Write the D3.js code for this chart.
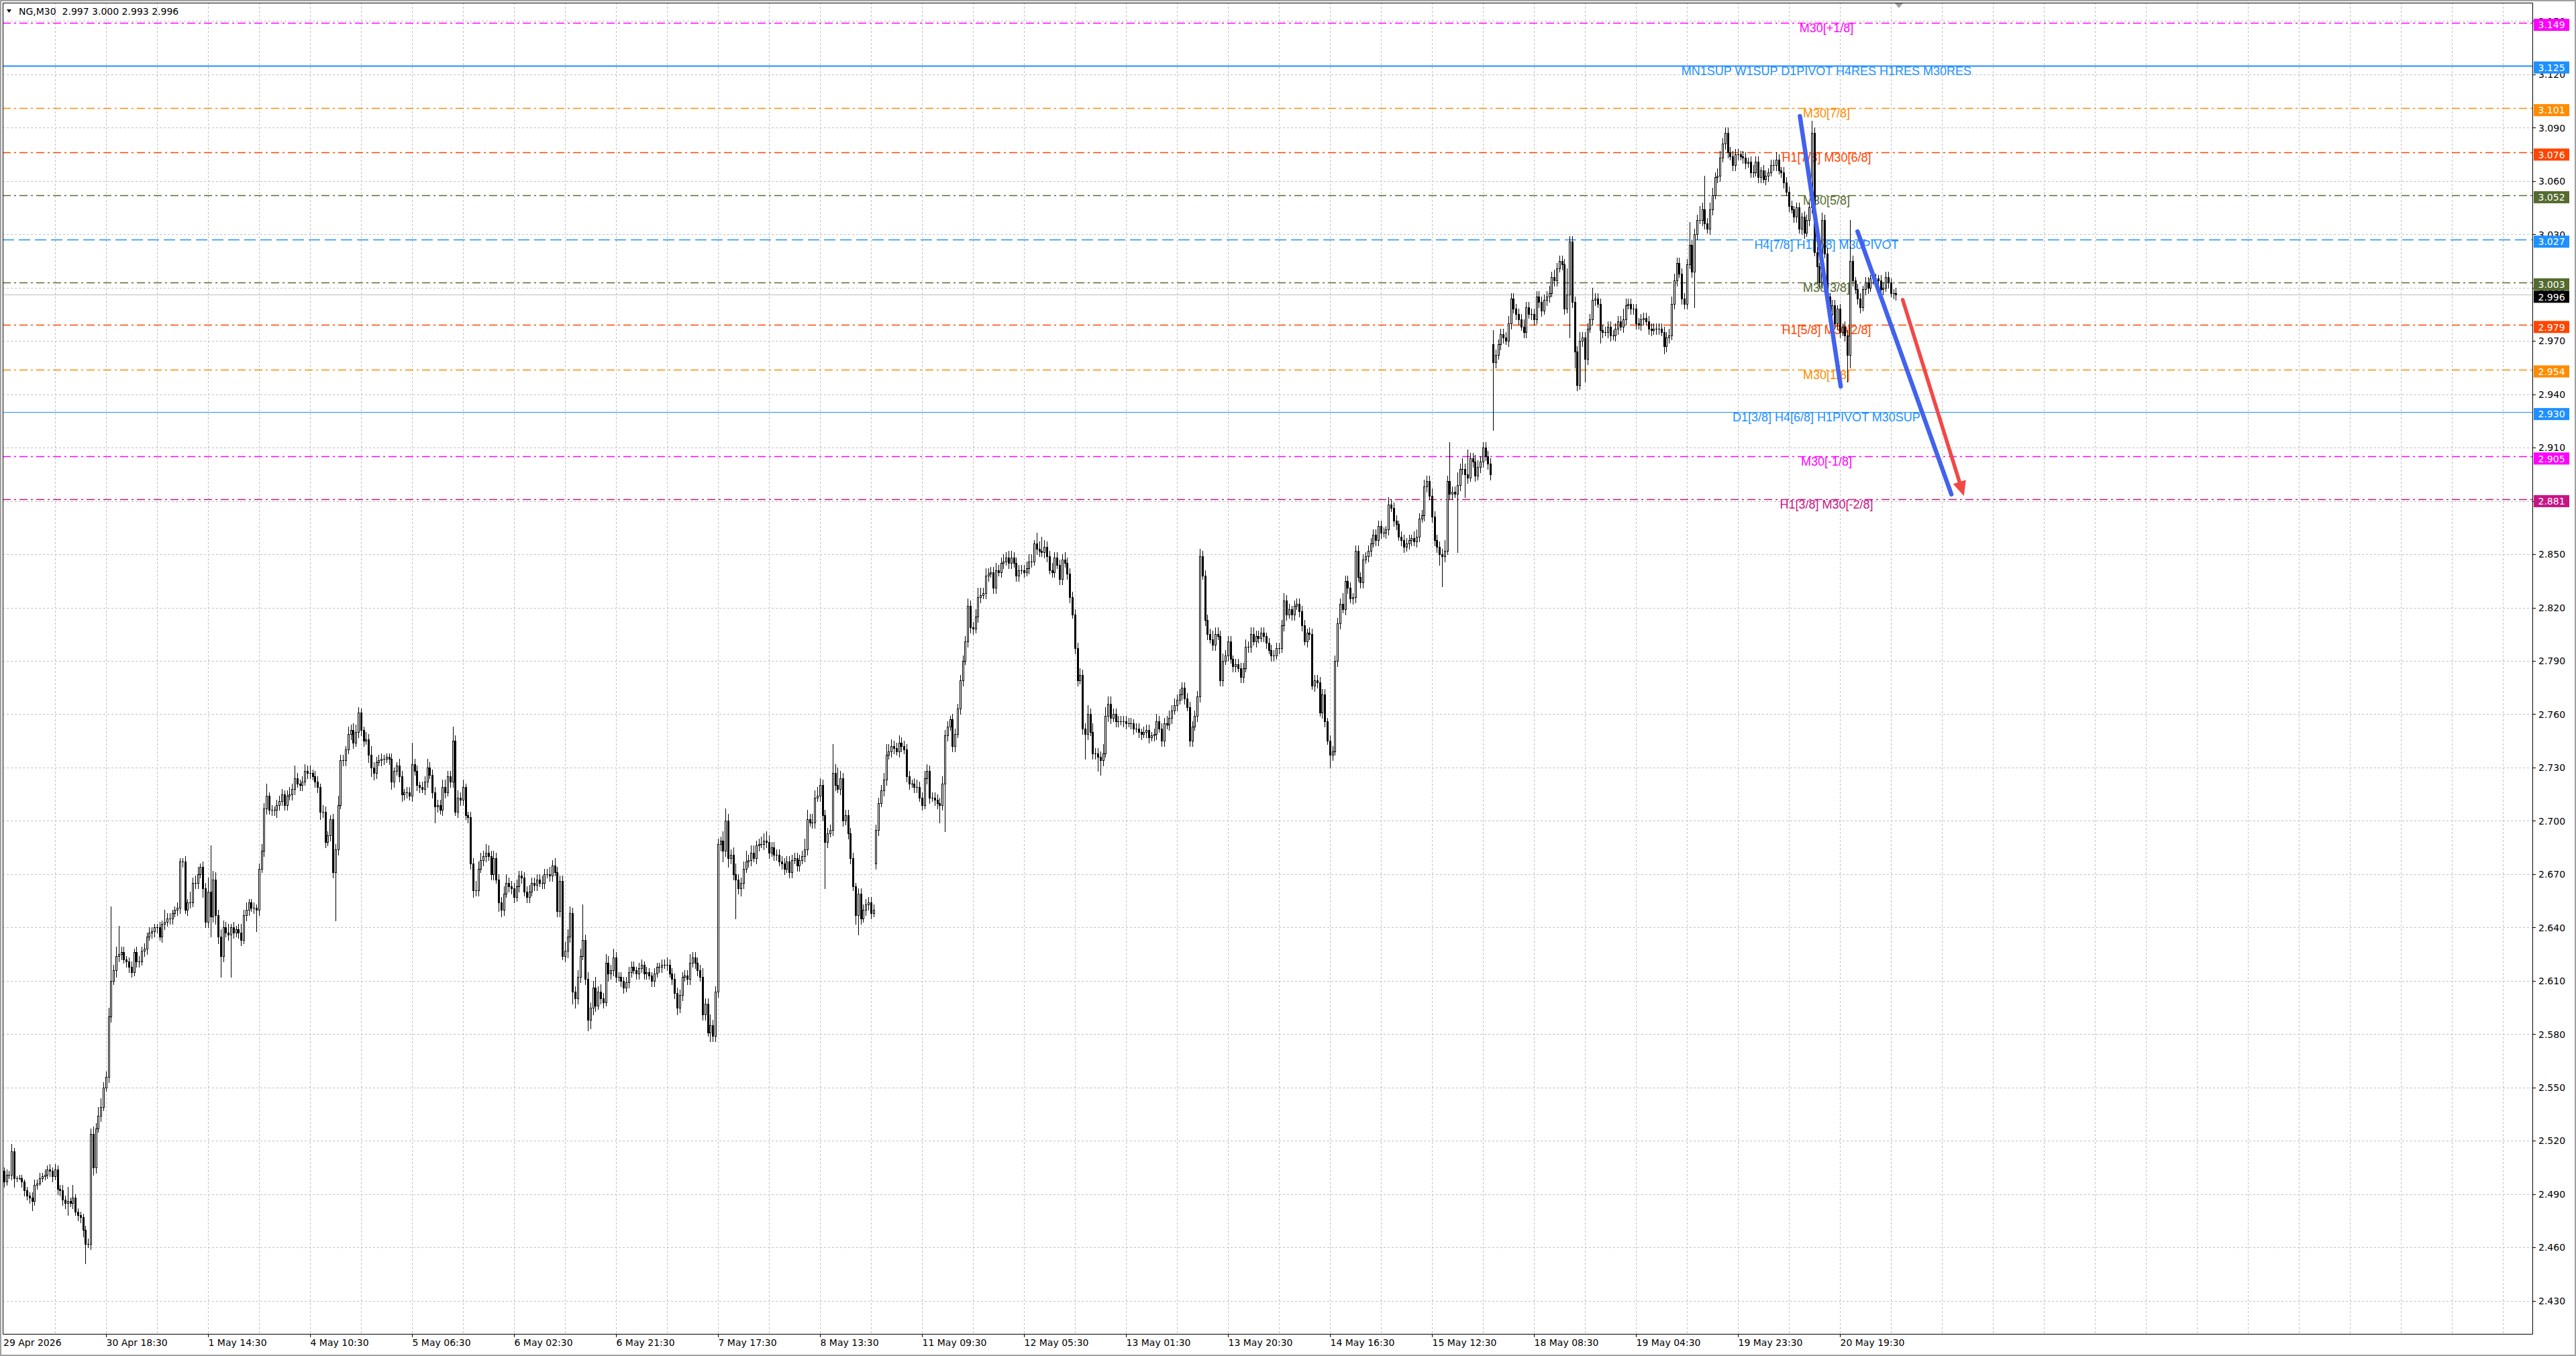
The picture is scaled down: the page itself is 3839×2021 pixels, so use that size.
<!DOCTYPE html>
<html lang="en">
<head>
<meta charset="utf-8">
<title>NG,M30</title>
<script src="https://cdnjs.cloudflare.com/ajax/libs/d3/7.8.0/d3.min.js"></script>
<style>
  html, body { margin: 0; padding: 0; background: #fff; overflow: hidden; }
  svg { display: block; }
  .axis-text { font-family: "DejaVu Sans", sans-serif; font-size: 14px; fill: #000; white-space: pre; }
  .box-text { font-family: "DejaVu Sans", sans-serif; font-size: 14px; fill: #fff; }
  .level-text { font-family: "Liberation Sans", Arial, sans-serif; font-size: 18px; }
</style>
</head>
<body>
<div id="chart"></div>
<script>
// M30 closes in thousandths, one row per 20 bars (one grid column)
var closeMilli = [
2497,2501,2501,2514,2499,2499,2499,2497,2492,2489,2488,2486,2495,2496,2499,2500,2501,2504,2503,2500,
2504,2493,2492,2487,2485,2486,2485,2488,2480,2478,2477,2470,2462,2462,2524,2505,2527,2534,2539,2550,
2556,2590,2610,2616,2624,2625,2626,2622,2621,2618,2615,2626,2621,2621,2627,2628,2635,2637,2638,2640,
2640,2635,2642,2643,2645,2645,2648,2650,2651,2677,2677,2650,2654,2654,2665,2665,2670,2674,2662,2643,
2660,2646,2667,2647,2635,2624,2640,2637,2636,2640,2637,2639,2637,2633,2647,2650,2654,2651,2651,2650,
2673,2683,2707,2714,2706,2706,2706,2709,2711,2715,2709,2714,2715,2718,2724,2721,2720,2722,2728,2727,
2727,2725,2722,2719,2705,2705,2688,2692,2701,2671,2684,2709,2734,2734,2740,2749,2751,2744,2750,2761,
2751,2745,2746,2737,2730,2727,2733,2734,2735,2735,2736,2735,2722,2728,2731,2725,2715,2716,2716,2714,
2732,2728,2720,2719,2718,2722,2730,2726,2716,2708,2709,2706,2719,2716,2725,2722,2745,2705,2713,2712,
2719,2703,2702,2676,2661,2661,2673,2678,2680,2682,2680,2670,2679,2667,2654,2650,2659,2665,2663,2662,
2657,2663,2669,2668,2660,2657,2660,2665,2664,2667,2665,2665,2670,2670,2669,2675,2671,2649,2666,2624,
2627,2635,2648,2604,2600,2612,2624,2633,2611,2588,2595,2606,2596,2604,2600,2598,2620,2614,2616,2623,
2612,2612,2610,2606,2609,2615,2618,2616,2614,2617,2619,2614,2615,2613,2610,2614,2618,2618,2619,2619,
2619,2614,2611,2603,2595,2602,2612,2613,2611,2620,2623,2620,2616,2612,2591,2597,2581,2585,2579,2604,
2687,2689,2683,2700,2679,2681,2670,2667,2662,2665,2673,2677,2678,2682,2679,2686,2687,2687,2689,2688,
2682,2685,2681,2681,2677,2676,2673,2677,2671,2678,2679,2675,2678,2680,2684,2701,2699,2699,2713,2714,
2720,2703,2688,2693,2695,2727,2720,2718,2724,2700,2703,2693,2679,2663,2647,2659,2645,2650,2653,2654,
2648,2650,2695,2710,2717,2723,2737,2739,2742,2741,2739,2744,2742,2740,2725,2721,2721,2719,2719,2713,
2709,2724,2728,2713,2713,2712,2710,2709,2721,2748,2753,2757,2742,2749,2763,2779,2790,2801,2821,2809,
2808,2815,2826,2827,2828,2838,2839,2840,2831,2841,2840,2845,2846,2848,2845,2848,2845,2838,2841,2841,
2840,2842,2846,2846,2856,2853,2852,2851,2854,2849,2841,2840,2848,2844,2836,2847,2845,2839,2826,2816,
2797,2779,2782,2752,2749,2760,2750,2738,2738,2736,2734,2738,2759,2766,2758,2760,2756,2756,2756,2756,
2755,2755,2755,2752,2752,2750,2749,2750,2751,2747,2748,2749,2756,2752,2745,2755,2754,2758,2762,2765,
2768,2771,2775,2769,2764,2745,2753,2759,2770,2849,2838,2813,2805,2802,2799,2805,2804,2779,2790,2793,
2801,2791,2787,2788,2786,2781,2786,2798,2798,2805,2801,2804,2803,2806,2804,2800,2796,2793,2793,2797,
2797,2810,2824,2816,2819,2816,2821,2822,2818,2810,2801,2806,2805,2776,2779,2778,2761,2771,2756,2745,
2737,2739,2790,2811,2822,2819,2835,2831,2825,2826,2852,2837,2834,2847,2849,2852,2856,2861,2858,2866,
2862,2862,2864,2878,2876,2869,2867,2860,2858,2854,2856,2858,2859,2857,2860,2870,2872,2888,2891,2883,
2871,2858,2854,2850,2849,2852,2891,2884,2885,2884,2889,2898,2898,2895,2893,2904,2902,2894,2899,2902,
2910,2905,2901,2895,2958,2962,2968,2974,2972,2970,2980,2994,2988,2985,2982,2978,2975,2989,2985,2985,
2982,2995,2992,2987,2993,2995,2997,3006,3004,3011,3015,3013,2988,2996,3026,2992,2964,2945,2970,2972,
2960,2977,2982,2993,2994,2991,2976,2975,2975,2978,2973,2973,2977,2981,2978,2982,2990,2991,2988,2988,
2980,2979,2982,2983,2981,2977,2976,2977,2977,2977,2975,2967,2972,2973,2991,3004,3014,3008,2994,2991,
3013,3024,3009,3030,3038,3038,3044,3036,3033,3044,3052,3062,3063,3073,3081,3087,3076,3074,3069,3075,
3075,3074,3073,3070,3071,3065,3065,3071,3062,3066,3061,3063,3065,3069,3069,3072,3066,3065,3059,3054,
3046,3044,3040,3045,3033,3040,3031,3038,3045,3087,3020,3012,3003,3038,3019,2995,2985,2990,2980,2988,
2975,2978,2973,2962,3015,3004,2999,2994,2989,2999,3003,3000,3005,3005,3005,3004,2999,3000,3006,3003,
2997,2997,2996
];

// upper / lower shadow lengths, thousandths
var wickUpMilli = [
2,3,2,4,2,1,2,2,1,2,2,3,3,2,3,2,3,2,3,2,
3,2,2,3,2,8,2,7,2,2,2,2,2,3,3,4,3,5,5,3,
3,5,42,3,5,16,3,3,2,2,3,2,3,3,2,3,2,3,2,2,
2,3,2,7,3,3,2,2,3,2,2,3,2,6,3,4,4,2,3,3,
8,26,5,4,3,4,4,3,5,2,3,2,3,5,3,4,2,2,3,2,
3,4,3,7,2,3,2,3,3,3,2,3,4,3,7,3,2,3,4,3,
4,2,3,3,2,4,3,2,2,3,3,5,3,3,2,4,3,4,4,3,
2,2,4,3,5,3,3,3,3,2,2,2,3,2,2,4,3,2,3,3,
12,3,3,2,3,3,5,3,3,3,3,3,4,4,3,3,8,3,4,3,
4,2,2,3,3,5,4,4,3,5,4,3,4,3,3,3,4,5,3,3,
3,4,3,3,3,3,4,3,3,3,3,4,3,3,4,3,4,3,3,3,
5,4,4,3,3,4,4,20,3,4,3,4,6,3,4,3,5,4,3,5,
3,3,3,2,3,3,3,3,2,3,3,2,3,2,2,3,2,2,3,3,
4,3,3,3,3,3,3,3,3,5,3,3,3,3,5,3,3,6,3,3,
3,2,5,7,4,3,4,6,3,3,4,6,3,4,4,3,3,4,4,5,
4,3,3,3,3,3,3,3,3,3,3,3,3,3,6,5,3,5,4,5,
4,3,3,3,3,16,5,10,4,3,3,3,3,3,2,3,3,3,3,3,
3,3,3,3,3,4,6,4,4,3,3,4,3,3,3,3,2,3,4,3,
3,4,4,3,3,3,3,3,4,3,3,2,3,3,3,3,3,3,4,3,
3,4,5,4,3,4,3,3,3,4,3,3,4,3,4,4,3,3,3,3,
3,4,4,4,2,6,4,8,4,3,3,4,3,3,3,3,4,3,3,3,
3,3,4,3,3,5,3,5,3,3,3,5,5,4,4,3,3,3,3,3,
3,3,3,2,3,3,2,3,3,3,2,3,4,3,3,3,4,4,3,4,
3,3,3,3,3,3,3,3,3,4,3,3,3,3,5,4,4,3,4,3,
3,3,2,3,3,3,3,4,3,4,4,3,3,3,3,2,3,3,3,3,
3,3,4,3,3,2,3,3,3,3,3,2,3,3,3,3,3,3,3,2,
3,3,3,3,3,6,3,3,3,2,3,3,3,3,2,3,3,3,3,3,
3,3,2,4,3,3,3,2,3,3,3,3,2,4,4,3,3,4,3,3,
4,3,3,3,3,6,3,22,3,3,7,3,6,3,14,3,3,4,4,3,
3,3,3,3,8,3,3,3,3,3,4,3,3,3,3,3,4,3,3,3,
3,3,3,3,3,3,4,3,4,3,3,3,3,15,3,3,3,3,5,3,
3,3,3,7,3,3,3,3,3,3,3,3,3,3,3,6,4,3,3,3,
3,3,3,3,3,3,3,3,3,3,3,3,3,4,4,4,3,3,3,3,
3,13,3,3,3,8,4,19,3,4,4,3,4,4,3,3,3,3,3,3,
3,2,3,3,2,3,4,3,3,2,3,3,2,3,3,4,3,2,3,3,
3,3,2,3,3,2,3,3,3,7,3,3,2,4,3,3,2,3,3,2,
3,2,3,3,23,3,2,3,3,2,3,3,2,3,3,2,3,3,3,3,
2,2,3
];
var wickDownMilli = [
3,2,2,3,5,2,1,3,3,2,3,5,2,2,1,2,2,2,3,3,
2,3,3,3,3,7,2,3,2,3,3,4,11,2,3,4,3,2,3,2,
2,3,3,2,4,3,3,2,3,3,3,2,3,3,2,3,3,2,3,3,
3,2,3,3,2,3,3,2,3,3,3,2,3,3,2,3,3,2,5,3,
3,11,3,5,4,12,3,2,3,24,3,2,3,3,2,3,3,2,3,12,
3,2,3,3,2,3,3,4,3,2,3,3,2,3,3,2,3,3,2,3,
3,2,3,3,4,3,3,2,3,3,27,3,2,3,3,2,3,3,2,3,
3,3,2,4,5,4,3,2,3,3,2,3,4,3,2,3,4,3,3,2,
3,2,3,3,2,3,3,2,3,9,3,2,3,3,2,3,3,2,3,3,
3,2,3,3,4,3,3,2,3,3,2,3,3,2,5,4,3,2,3,3,
3,2,3,3,2,3,3,2,3,3,2,3,3,2,3,3,2,3,3,2,
3,4,3,7,5,3,3,2,3,6,5,4,3,2,3,3,2,4,3,3,
3,2,3,3,2,3,3,2,3,3,2,3,3,2,3,3,2,3,3,2,
3,2,3,3,4,3,3,2,3,3,2,3,3,2,3,3,2,5,3,3,
3,4,6,3,5,3,3,22,3,4,3,2,3,3,2,3,3,2,3,3,
3,2,3,3,2,3,3,2,3,3,2,3,3,2,3,3,2,3,3,2,
3,3,26,3,2,3,3,2,3,3,2,3,3,2,5,11,3,2,3,3,
3,2,3,3,2,3,3,2,3,3,2,3,3,2,3,3,2,3,3,2,
3,2,3,3,2,3,3,10,3,27,3,2,3,3,2,3,3,2,3,3,
3,2,3,3,2,3,3,2,3,3,2,3,3,2,3,3,2,3,3,2,
3,2,3,3,2,3,3,2,3,3,2,3,3,2,3,3,2,3,3,2,
3,3,2,3,14,3,2,3,3,8,8,3,2,3,3,2,3,3,2,3,
3,2,3,3,2,3,3,2,3,3,2,3,3,2,3,3,2,3,3,2,
3,2,3,3,2,3,3,2,3,3,2,3,3,2,3,3,2,3,3,2,
3,2,3,3,2,3,3,2,3,3,2,3,3,2,3,3,2,3,3,2,
3,2,3,3,2,3,3,2,3,3,2,3,3,2,3,3,2,3,3,2,
7,3,2,3,3,2,3,3,2,3,3,2,3,3,2,3,3,2,3,3,
3,2,3,3,2,3,3,2,3,3,2,3,3,2,3,3,2,3,3,2,
3,3,3,6,17,3,2,3,3,2,33,3,3,13,3,2,3,3,2,3,
3,2,3,3,38,3,2,3,3,2,3,3,2,3,3,2,3,3,2,3,
3,2,3,3,2,3,3,2,3,3,2,3,3,2,24,3,9,3,2,3,
13,3,2,3,3,2,7,3,2,3,3,2,3,3,2,3,3,2,3,3,
3,2,3,3,2,3,3,2,3,3,2,4,3,3,2,3,3,2,3,3,
3,2,3,20,3,2,3,3,2,3,3,2,3,3,2,3,3,2,3,3,
3,2,3,3,2,3,3,2,3,3,2,3,3,2,3,3,2,3,3,2,
3,2,3,3,2,3,3,2,3,3,2,9,3,3,2,3,3,2,3,3,
3,2,3,15,7,3,2,3,3,2,3,3,2,3,3,2,3,3,2,3,
2,3,3
];

// bars whose open is not the previous close: [bar, open in thousandths]
var explicitOpens = [[0, 2503], [342, 2676], [584, 2968]];

var timeLabels = ["29 Apr 2026", "30 Apr 18:30", "1 May 14:30", "4 May 10:30", "5 May 06:30",
  "6 May 02:30", "6 May 21:30", "7 May 17:30", "8 May 13:30", "11 May 09:30", "12 May 05:30",
  "13 May 01:30", "13 May 20:30", "14 May 16:30", "15 May 12:30", "18 May 08:30", "19 May 04:30",
  "19 May 23:30", "20 May 19:30"];
var barsPerLabel = 40;

var levelPrices = [3.149, 3.125, 3.101, 3.076, 3.052, 3.027, 3.003, 2.979, 2.954, 2.930, 2.905, 2.881];
var levelTexts = ["M30[+1/8]", "MN1SUP W1SUP D1PIVOT H4RES H1RES M30RES", "M30[7/8]",
  "H1[7/8] M30[6/8]", "M30[5/8]", "H4[7/8] H1[7/8] M30PIVOT", "M30[3/8]", "H1[5/8] M30[2/8]",
  "M30[1/8]", "D1[3/8] H4[6/8] H1PIVOT M30SUP", "M30[-1/8]", "H1[3/8] M30[-2/8]"];

// hand-drawn trend lines: [bar, price] end points
var blueLines = [
  [[704.4, 3.0964], [720.4, 2.9444]],
  [[727.0, 3.0316], [763.8, 2.8837]]
];
var redArrow = [[744.7, 2.9932], [768.7, 2.8828]];

// ---------- styles ----------
var dashDot = "12,5,3,5";
var levelStyles = [
  { color: "#FF00FF", dash: dashDot, w: 1.5 },
  { color: "#1E90FF", dash: null, w: 2 },
  { color: "#FF8C00", dash: dashDot, w: 1.3 },
  { color: "#FF4500", dash: dashDot, w: 1.3 },
  { color: "#556B2F", dash: dashDot, w: 1.3 },
  { color: "#1E90FF", dash: "17,7", w: 1.3 },
  { color: "#556B2F", dash: dashDot, w: 1.3 },
  { color: "#FF4500", dash: dashDot, w: 1.3 },
  { color: "#FF8C00", dash: dashDot, w: 1.3 },
  { color: "#1E90FF", dash: null, w: 1 },
  { color: "#FF00FF", dash: dashDot, w: 1.3 },
  { color: "#C71585", dash: dashDot, w: 1.3 }
];

var W = 3839, H = 2021;
var plot = { left: 4, top: 4, right: 3774, bottom: 1988 };

var x = d3.scaleLinear().domain([0, 992]).range([5.7, 3775.3]);
var y = d3.scaleLinear().domain([2.430, 3.150]).range([1938.6, 31.35]);
var fmt = d3.format(".3f");

// build OHLC
var opensMap = new Map(explicitOpens);
var bars = closeMilli.map(function(c, i) {
  var o = opensMap.has(i) ? opensMap.get(i) : closeMilli[i - 1];
  var hi = Math.max(o, c) + wickUpMilli[i];
  var lo = Math.min(o, c) - wickDownMilli[i];
  return { i: i, o: o / 1000, c: c / 1000, h: hi / 1000, l: lo / 1000 };
});
var last = bars[bars.length - 1];

var svg = d3.select("#chart").append("svg")
  .attr("width", W).attr("height", H);

svg.append("rect").attr("width", W).attr("height", H).attr("fill", "#fff");

var clip = svg.append("defs").append("clipPath").attr("id", "plotClip");
clip.append("rect").attr("x", plot.left).attr("y", plot.top)
  .attr("width", plot.right - plot.left).attr("height", plot.bottom - plot.top);

var g = svg.append("g").attr("clip-path", "url(#plotClip)");

// grid
var yTicks = d3.range(2430, 3151, 30).map(function(v) { return v / 1000; });
g.selectAll(".hgrid").data(yTicks).enter().append("line")
  .attr("x1", plot.left).attr("x2", plot.right)
  .attr("y1", function(d) { return Math.round(y(d)) + 0.5; })
  .attr("y2", function(d) { return Math.round(y(d)) + 0.5; })
  .attr("stroke", "#C0C0C0").attr("stroke-dasharray", "3,3");

var vGrid = d3.range(20, 992, 20);
g.selectAll(".vgrid").data(vGrid).enter().append("line")
  .attr("x1", function(d) { return Math.round(x(d)) + 0.5; })
  .attr("x2", function(d) { return Math.round(x(d)) + 0.5; })
  .attr("y1", plot.top).attr("y2", plot.bottom)
  .attr("stroke", "#C0C0C0").attr("stroke-dasharray", "3,3");

// level lines
levelPrices.forEach(function(p, k) {
  var st = levelStyles[k];
  var yy = Math.round(y(p)) + 0.5;
  var ln = g.append("line")
    .attr("x1", plot.left).attr("x2", plot.right)
    .attr("y1", yy).attr("y2", yy)
    .attr("stroke", st.color).attr("stroke-width", st.w);
  if (st.dash) ln.attr("stroke-dasharray", st.dash);
});

// level captions
var captionX = x(714.8);
g.selectAll(".level-text").data(levelPrices).enter().append("text")
  .attr("class", "level-text")
  .attr("x", captionX)
  .attr("y", function(d) { return y(d) + 14; })
  .attr("text-anchor", "middle")
  .attr("fill", function(d, k) { return levelStyles[k].color; })
  .text(function(d, k) { return levelTexts[k]; });

// current price line
g.append("line")
  .attr("x1", plot.left).attr("x2", plot.right)
  .attr("y1", Math.round(y(last.c)) + 0.5).attr("y2", Math.round(y(last.c)) + 0.5)
  .attr("stroke", "#C0C0C0").attr("stroke-width", 1);

// candles
var cg = g.append("g").attr("shape-rendering", "crispEdges");
bars.forEach(function(b) {
  var cx = Math.round(x(b.i));
  var yh = Math.round(y(b.h)), yl = Math.round(y(b.l));
  cg.append("rect").attr("x", cx).attr("y", yh).attr("width", 1)
    .attr("height", Math.max(1, yl - yh + 1)).attr("fill", "#000");
  var top = Math.round(y(Math.max(b.o, b.c)));
  var bot = Math.round(y(Math.min(b.o, b.c)));
  var hgt = Math.max(1, bot - top + 1);
  cg.append("rect").attr("x", cx - 1).attr("y", top).attr("width", 3)
    .attr("height", hgt).attr("fill", "#000");
  if (b.c > b.o && hgt > 2) {
    cg.append("rect").attr("x", cx).attr("y", top + 1).attr("width", 1)
      .attr("height", hgt - 2).attr("fill", "#fff");
  }
});

// trend lines
blueLines.forEach(function(seg) {
  g.append("line")
    .attr("x1", x(seg[0][0])).attr("y1", y(seg[0][1]))
    .attr("x2", x(seg[1][0])).attr("y2", y(seg[1][1]))
    .attr("stroke", "#4262EE").attr("stroke-width", 6.5)
    .attr("stroke-linecap", "round");
});

(function() {
  var x1 = x(redArrow[0][0]), y1 = y(redArrow[0][1]);
  var x2 = x(redArrow[1][0]), y2 = y(redArrow[1][1]);
  var dx = x2 - x1, dy = y2 - y1, len = Math.sqrt(dx * dx + dy * dy);
  var ux = dx / len, uy = dy / len;
  var headL = 22, headW = 10;
  var bx = x2 - ux * headL, by = y2 - uy * headL;
  g.append("line")
    .attr("x1", x1).attr("y1", y1).attr("x2", bx + ux * 2).attr("y2", by + uy * 2)
    .attr("stroke", "#F24848").attr("stroke-width", 5.5).attr("stroke-linecap", "round");
  g.append("path")
    .attr("d", "M" + x2 + "," + y2 +
      "L" + (bx - uy * headW) + "," + (by + ux * headW) +
      "L" + (bx + uy * headW) + "," + (by - ux * headW) + "Z")
    .attr("fill", "#F24848");
})();

// frame
svg.append("rect").attr("x", 1).attr("y", 1).attr("width", W - 2).attr("height", H - 2)
  .attr("fill", "none").attr("stroke", "#A0A0A0").attr("stroke-width", 2);
svg.append("path")
  .attr("d", "M" + (plot.left + 0.5) + "," + (plot.bottom + 0.5) + "V" + (plot.top + 0.5) +
    "H" + (plot.right + 0.5) + "V" + (plot.bottom + 0.5) + "H" + (plot.left + 0.5))
  .attr("fill", "none").attr("stroke", "#000").attr("stroke-width", 1);

// chart shift marker
var mx = x(last.i + 1.2);
svg.append("path").attr("d", "M" + (mx - 6) + ",5L" + (mx + 6) + ",5L" + mx + ",12Z")
  .attr("fill", "#A0A0A0");

// price axis
var ya = svg.append("g");
ya.selectAll("line").data(yTicks).enter().append("line")
  .attr("x1", plot.right).attr("x2", plot.right + 5)
  .attr("y1", function(d) { return Math.round(y(d)) + 0.5; })
  .attr("y2", function(d) { return Math.round(y(d)) + 0.5; })
  .attr("stroke", "#000");
ya.selectAll("text").data(yTicks).enter().append("text")
  .attr("class", "axis-text")
  .attr("x", 3783).attr("y", function(d) { return y(d) + 5.3; })
  .text(function(d) { return fmt(d); });

// level price tags
function tag(p, color) {
  var yy = y(p);
  svg.append("rect").attr("x", 3776).attr("y", yy - 6).attr("width", 53).attr("height", 18)
    .attr("fill", color);
  svg.append("text").attr("class", "box-text").attr("x", 3782.5).attr("y", yy + 8.3)
    .text(fmt(p));
}
levelPrices.forEach(function(p, k) { tag(p, levelStyles[k].color); });
tag(last.c, "#000");

// time axis
var xa = svg.append("g");
timeLabels.forEach(function(t, k) {
  var px = Math.round(x(k * barsPerLabel)) + 0.5;
  if (k > 0) {
    xa.append("line").attr("x1", px).attr("x2", px)
      .attr("y1", plot.bottom).attr("y2", plot.bottom + 5).attr("stroke", "#000");
  }
  xa.append("text").attr("class", "axis-text")
    .attr("x", k === 0 ? 5 : px).attr("y", 2006).text(t);
});

// title
svg.append("path").attr("d", "M10,14L17,14L13.5,19Z").attr("fill", "#000");
svg.append("text").attr("class", "axis-text").attr("x", 28).attr("y", 21.5)
  .text("NG,M30  " + [last.o, last.h, last.l, last.c].map(fmt).join(" "));
</script>
</body>
</html>
